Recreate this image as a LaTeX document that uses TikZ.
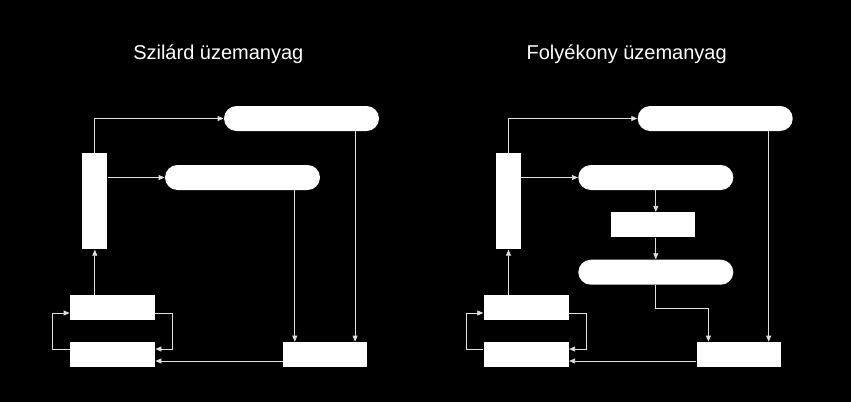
\documentclass[tikz,border=0pt]{standalone}
\usepackage{fontspec}
\setmainfont{Liberation Sans}
\usetikzlibrary{arrows.meta}

\begin{document}
\begin{tikzpicture} [x = 1pt, y = -1pt, line width = .8pt,
  box/.style = {draw = none, fill = white, inner sep = 0pt, minimum width = 84pt, minimum height = 25pt},
  pill/.style = {box, minimum width = 155pt, rounded corners = 12.5pt},
  arr/.style = {draw = white!88!black, -{Triangle[length = 6pt, width = 5pt]}}]
\useasboundingbox[fill = black] (0,0) rectangle (851,402);
\node[font = \fontsize{20}{24}\selectfont, text = white, anchor = base](t1) at (218.3,59.3){Szilárd üzemanyag};
\node[font = \fontsize{20}{24}\selectfont, text = white, anchor = base](t2) at (626.7,59.3){Folyékony üzemanyag};
% szilard
\node[box, minimum width = 25pt, minimum height = 96pt](col1) at (94.8,201.3){};
\node[pill](top1) at (301.5,118.5){};
\node[pill](mid1) at (242.5,177.5){};
\node[box, minimum width = 85pt](a1) at (112.5,307.5){};
\node[box, minimum width = 85pt](b1) at (112.5,354.5){};
\node[box](c1) at (325.2,354.5){};
\coordinate (inm1) at ([xshift = 12pt]c1.north west);
\coordinate (int1) at ([xshift = -12.5pt]c1.north east);
\draw [arr] (col1.north) |- (top1.west);
\draw [arr] (col1.east |- mid1.west) -- (mid1.west);
\draw [arr] (mid1.south -| inm1) -- (inm1);
\draw [arr] (top1.south -| int1) -- (int1);
\draw [arr] ([yshift = -6.5pt]c1.west) -- ([yshift = -6.5pt]b1.east);
\draw [arr] (a1.north -| col1.south) -- (col1.south);
\draw [arr] ([yshift = -5.5pt]a1.east) -- ++(17,0) |- ([yshift = 5.5pt]b1.east);
\draw [arr] ([yshift = 5.5pt]b1.west) -- ++(-17,0) |- ([yshift = -5.5pt]a1.west);
% folyekony
\node[box, minimum width = 25pt, minimum height = 96pt](col2) at (508.5,201.3){};
\node[pill](top2) at (715.2,118.5){};
\node[pill](mid2) at (655.8,177.5){};
\node[box](sep2) at (653.2,224.8){};
\node[pill](low2) at (655.8,272.2){};
\node[box, minimum width = 85pt](a2) at (526.2,307.5){};
\node[box, minimum width = 85pt](b2) at (526.2,354.5){};
\node[box](c2) at (738.8,354.5){};
\coordinate (inm2) at ([xshift = 12pt]c2.north west);
\coordinate (int2) at ([xshift = -12.5pt]c2.north east);
\draw [arr] (col2.north) |- (top2.west);
\draw [arr] (col2.east |- mid2.west) -- (mid2.west);
\draw [arr] (mid2.south) -- (mid2.south |- sep2.north);
\draw [arr] (sep2.south -| low2.north) -- (low2.north);
\draw [arr] (low2.south) -- ++(0,23.3) -| (inm2);
\draw [arr] (top2.south -| int2) -- (int2);
\draw [arr] ([yshift = -6.5pt]c2.west) -- ([yshift = -6.5pt]b2.east);
\draw [arr] (a2.north -| col2.south) -- (col2.south);
\draw [arr] ([yshift = -5.5pt]a2.east) -- ++(17,0) |- ([yshift = 5.5pt]b2.east);
\draw [arr] ([yshift = 5.5pt]b2.west) -- ++(-17,0) |- ([yshift = -5.5pt]a2.west);
\end{tikzpicture}
\end{document}
